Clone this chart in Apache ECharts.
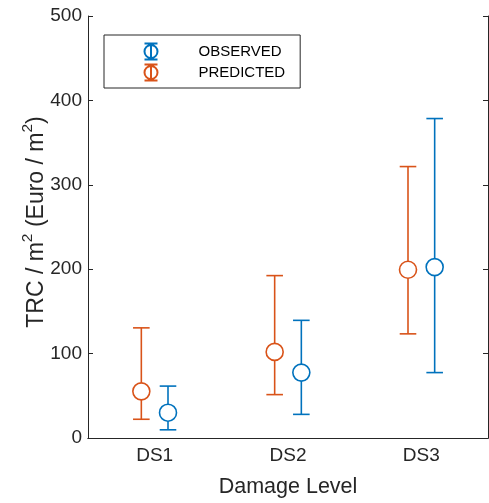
<!DOCTYPE html>
<html>
<head>
<meta charset="utf-8">
<script src="https://cdn.jsdelivr.net/npm/echarts@6/dist/echarts.min.js"></script>
<style>
html,body{margin:0;padding:0;background:#fff;}
#chart{width:489px;height:503px;}
</style>
</head>
<body>
<div id="chart"></div>
<script>
const categories = ['DS1', 'DS2', 'DS3'];
const yTicks = [0, 100, 200, 300, 400, 500];
const observedMean = [30, 77.5, 202.5];
const observedLow = [9.7, 28, 77.5];
const observedHigh = [61.5, 139.4, 378.5];
const predictedMean = [55.3, 102, 199.4];
const predictedLow = [22.2, 51.4, 123.4];
const predictedHigh = [130.5, 192.4, 321.6];

const BLUE = '#0072BD';
const ORANGE = '#D95319';
const AX = '#262626';
const FONT = '"Liberation Sans", Arial, Helvetica, sans-serif';

function rows(mean, low, high) {
  return mean.map((m, i) => [i, m, low[i], high[i]]);
}

function makeRender(offsetFrac, color) {
  return function (params, api) {
    const i = api.value(0);
    const band = api.size([1, 0])[0];
    const c = api.coord([i, api.value(1)]);
    const lo = api.coord([i, api.value(2)]);
    const hi = api.coord([i, api.value(3)]);
    const x = c[0] + band * offsetFrac;
    const r = 8.5, cap = 8.3, lw = 1.6;
    const st = { stroke: color, lineWidth: lw, fill: null };
    return {
      type: 'group',
      children: [
        { type: 'line', shape: { x1: x, y1: hi[1], x2: x, y2: c[1] - r }, style: st },
        { type: 'line', shape: { x1: x, y1: c[1] + r, x2: x, y2: lo[1] }, style: st },
        { type: 'line', shape: { x1: x - cap, y1: hi[1], x2: x + cap, y2: hi[1] }, style: st },
        { type: 'line', shape: { x1: x - cap, y1: lo[1], x2: x + cap, y2: lo[1] }, style: st },
        { type: 'circle', shape: { cx: x, cy: c[1], r: r }, style: { stroke: color, lineWidth: lw, fill: 'none' } }
      ]
    };
  };
}

const ICON = 'path://M1.5 0 L14.5 0 M8 0 L8 16 M1.5 16 L14.5 16 M14.5 8 A6.5 6.5 0 1 1 1.5 8 A6.5 6.5 0 1 1 14.5 8';

const chart = echarts.init(document.getElementById('chart'), null, { renderer: 'canvas' });
chart.setOption({
  animation: false,
  backgroundColor: '#ffffff',
  textStyle: { fontFamily: FONT },
  grid: { left: 88, right: 1, top: 16, bottom: 59, containLabel: false },
  legend: {
    orient: 'vertical',
    left: 104,
    top: 35,
    padding: [6, 15, 5, 38],
    itemGap: 0,
    itemWidth: 15,
    itemHeight: 16,
    borderColor: AX,
    borderWidth: 1,
    backgroundColor: '#fff',
    textStyle: { fontFamily: FONT, fontSize: 15, color: '#000', lineHeight: 17, padding: [0, 0, 0, 35] },
    data: [
      { name: 'OBSERVED', icon: ICON, itemStyle: { color: 'none', borderColor: BLUE, borderWidth: 2 } },
      { name: 'PREDICTED', icon: ICON, itemStyle: { color: 'none', borderColor: ORANGE, borderWidth: 2 } }
    ]
  },
  xAxis: [
    {
      type: 'category',
      data: categories,
      position: 'bottom',
      name: 'Damage Level',
      nameLocation: 'middle',
      nameGap: 38,
      nameMoveOverlap: false,
      nameTextStyle: { fontFamily: FONT, fontSize: 21.5, color: AX },
      axisLine: { lineStyle: { color: AX, width: 1 } },
      axisTick: { inside: true, length: 5, alignWithLabel: true, lineStyle: { color: AX } },
      axisLabel: { fontFamily: FONT, fontSize: 19, color: AX, margin: 8 },
      splitLine: { show: false }
    },
    {
      type: 'category',
      data: categories,
      position: 'top',
      axisLine: { lineStyle: { color: AX, width: 1 } },
      axisTick: { inside: true, length: 5, alignWithLabel: true, lineStyle: { color: AX } },
      axisLabel: { show: false },
      splitLine: { show: false }
    }
  ],
  yAxis: [
    {
      type: 'value',
      min: yTicks[0],
      max: yTicks[yTicks.length - 1],
      interval: 100,
      name: '{a|TRC / m}{s|2}{a| (Euro / m}{s|2}{a|)}',
      nameLocation: 'middle',
      nameGap: 40,
      nameMoveOverlap: false,
      nameTextStyle: {
        color: AX,
        padding: [0, 0, 0, 10],
        rich: {
          a: { fontFamily: FONT, fontSize: 23, color: AX, verticalAlign: 'bottom', lineHeight: 28 },
          s: { fontFamily: FONT, fontSize: 15.5, color: AX, verticalAlign: 'top', lineHeight: 28, padding: [0, 0, 13, 0] }
        }
      },
      axisLine: { show: true, lineStyle: { color: AX, width: 1 } },
      axisTick: { show: true, inside: true, length: 5, lineStyle: { color: AX } },
      axisLabel: { fontFamily: FONT, fontSize: 19, color: AX, margin: 6 },
      splitLine: { show: false }
    },
    {
      type: 'value',
      position: 'right',
      min: yTicks[0],
      max: yTicks[yTicks.length - 1],
      interval: 100,
      axisLine: { show: true, lineStyle: { color: AX, width: 1 } },
      axisTick: { show: true, inside: true, length: 5, lineStyle: { color: AX } },
      axisLabel: { show: false },
      splitLine: { show: false }
    }
  ],
  series: [
    {
      name: 'OBSERVED',
      type: 'custom',
      xAxisIndex: 0,
      yAxisIndex: 0,
      itemStyle: { color: BLUE },
      renderItem: makeRender(0.1, BLUE),
      encode: { x: 0, y: 1 },
      data: rows(observedMean, observedLow, observedHigh)
    },
    {
      name: 'PREDICTED',
      type: 'custom',
      xAxisIndex: 0,
      yAxisIndex: 0,
      itemStyle: { color: ORANGE },
      renderItem: makeRender(-0.1, ORANGE),
      encode: { x: 0, y: 1 },
      data: rows(predictedMean, predictedLow, predictedHigh)
    }
  ]
});
</script>
</body>
</html>
